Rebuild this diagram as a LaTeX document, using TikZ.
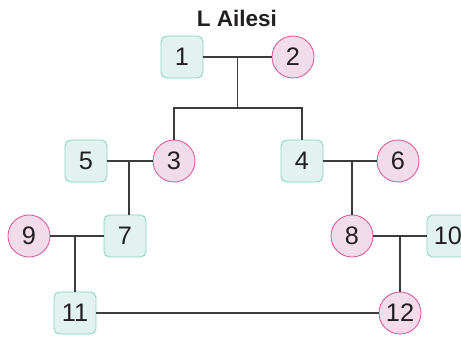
\documentclass[tikz,border=0pt]{standalone}
\usepackage{fontspec}
\setmainfont{Liberation Sans}
\usetikzlibrary{calc}

\definecolor{malefill}{HTML}{E2F3EF}
\definecolor{maledraw}{HTML}{86D3C4}
\definecolor{femalefill}{HTML}{F3DCE9}
\definecolor{femaledraw}{HTML}{D9579C}
\definecolor{linecol}{HTML}{3C3C3C}
\definecolor{textcol}{HTML}{231F20}

\begin{document}
\begin{tikzpicture}[x=0.025cm,y=-0.025cm,
					line width=0.9pt,
					linecol,
					main node/.style={draw,inner sep=0pt,minimum size=1.05cm,line width=0.6pt,
						text=textcol,font=\fontsize{18}{18}\selectfont},
					male node/.style={main node,rectangle,rounded corners=4pt,draw=maledraw,fill=malefill},
					female node/.style={main node,circle,draw=femaledraw,fill=femalefill}]

  \useasboundingbox (0,0) rectangle (461,342);
  \node[text=textcol,font=\bfseries\fontsize{16}{16}\selectfont] (title) at (237,18) {L Ailesi};

  % first generation
  \node[male node] (n1) at (182,57) {1};
  \node[female node] (n2) at (293,57) {2};

  % second generation
  \node[male node] (n5) at (86,161) {5};
  \node[female node] (n3) at (174,161) {3};
  \node[male node] (n4) at (302,161) {4};
  \node[female node] (n6) at (398,161) {6};

  % third generation
  \node[female node] (n9) at (29,236) {9};
  \node[male node] (n7) at (125,236) {7};
  \node[female node] (n8) at (352,236) {8};
  \node[male node] (n10) at (448,236) {10};

  % fourth generation
  \node[male node] (n11) at (75,313) {11};
  \node[female node] (n12) at (400,313) {12};

  % couples
  \coordinate (m12) at ($(n1)!0.5!(n2)$);
  \coordinate (m53) at (129,161);
  \coordinate (m46) at (352,161);
  \coordinate (m97) at (75,236);
  \coordinate (m810) at (400,236);
  \coordinate (b12) at ($(m12)+(0,51)$);

  \path[draw]
    (n1) -- (n2)
    (n5) -- (n3)
    (n4) -- (n6)
    (n9) -- (n7)
    (n8) -- (n10)
    (n11) -- (n12);

  % children
  \path[draw]
    (m12) -- (b12)
    (n3.north) |- (b12) -| (n4.north)
    (m53) -- (m53 |- n7.north)
    (m46) -- (n8.north)
    (m97) -- (n11.north)
    (m810) -- (n12.north);
\end{tikzpicture}
\end{document}
